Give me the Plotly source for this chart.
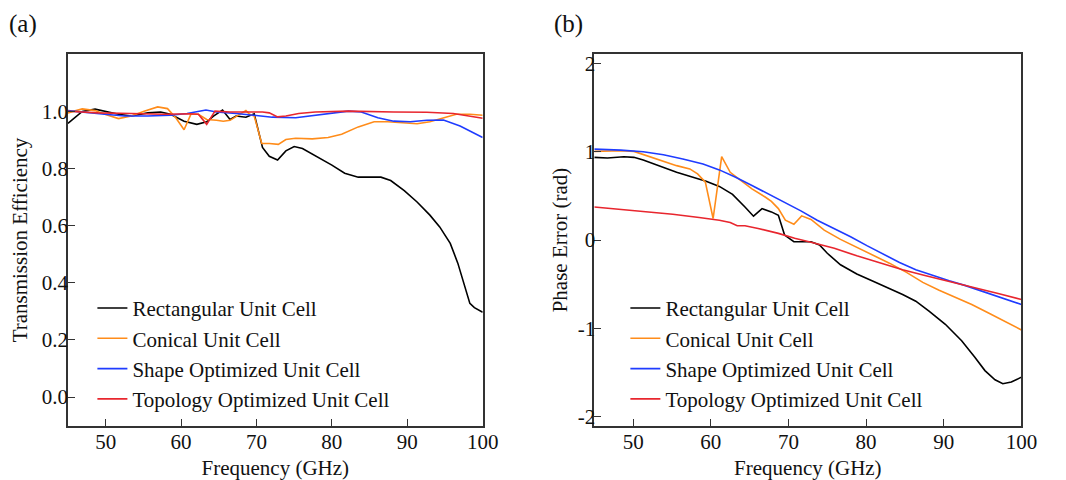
import plotly.graph_objects as go

# ---------------- Data ----------------
series_names = ["Rectangular Unit Cell", "Conical Unit Cell",
                "Shape Optimized Unit Cell", "Topology Optimized Unit Cell"]
series_colors = ["#000000", "#ff8c1a", "#1f3cff", "#e8262e"]

# Panel (a): Transmission efficiency
rect_a_f = [45, 46.9, 48.6, 49.9, 51.7, 53.4, 55.6, 57.3, 58.6, 60.4, 62.1, 63.4, 64.3, 65.5,
            66.5, 67.3, 68.6, 69.7, 70.8, 71.7, 72.8, 73.9, 75, 76.1, 77.8, 80, 81.7, 83.5,
            85.2, 86.5, 87.8, 89.6, 91.3, 93, 94.3, 95.7, 96.7, 97.6, 98.3, 98.9, 100]
rect_a_v = [0.958, 1.0, 1.008, 1.0, 0.99, 0.984, 0.995, 0.998, 0.99, 0.966, 0.955, 0.964, 0.984, 1.005,
            0.972, 0.984, 0.98, 0.992, 0.874, 0.843, 0.83, 0.862, 0.877, 0.87, 0.845, 0.812, 0.784, 0.77,
            0.77, 0.77, 0.758, 0.723, 0.683, 0.637, 0.596, 0.538, 0.469, 0.388, 0.328, 0.313, 0.297]

con_a_f = [45, 46.9, 48.6, 49.9, 51.7, 53.4, 55.1, 56.9, 58.2, 59.3, 60.4, 61.3, 62.3, 63.4,
           64.7, 65.6, 66.5, 67.6, 68.6, 69.1, 69.7, 70.7, 71.7, 72.9, 73.9, 75.2, 77.4, 79.5,
           81.3, 83.5, 85.6, 87.4, 89.6, 91.3, 93, 94.8, 96.5, 98.3, 100]
con_a_v = [0.995, 1.009, 1.003, 0.99, 0.975, 0.984, 1.001, 1.016, 1.01, 0.978, 0.936, 0.99, 0.99, 0.972,
           0.969, 0.966, 0.969, 0.986, 1.003, 0.99, 0.984, 0.888, 0.888, 0.885, 0.902, 0.906, 0.904, 0.909,
           0.92, 0.946, 0.964, 0.964, 0.96, 0.957, 0.964, 0.978, 0.99, 0.99, 0.987]

shp_a_f = [45, 47.3, 49.9, 52.5, 55.6, 58.6, 60.8, 63.3, 64.7, 67.3, 70, 72.1, 75.2, 77.8,
           80, 82.2, 83.9, 86.1, 88.2, 90.4, 92.6, 94.8, 97, 98.7, 100]
shp_a_v = [1.003, 0.998, 0.99, 0.984, 0.984, 0.987, 0.993, 1.005, 0.998, 0.993, 0.987, 0.98, 0.978, 0.986,
           0.995, 1.001, 0.998, 0.978, 0.966, 0.964, 0.969, 0.97, 0.949, 0.926, 0.909]

top_a_f = [45, 49, 53.4, 57.8, 61.2, 62.3, 63.4, 64.5, 66.5, 68.9, 70.8, 71.7, 72.8, 73.9,
           75.6, 77.8, 82.2, 88.2, 92.6, 96.1, 100]
top_a_v = [1.001, 0.995, 0.993, 0.99, 0.992, 0.99, 0.955, 1.001, 0.998, 0.998, 0.998, 0.995, 0.981, 0.984,
           0.993, 0.998, 1.001, 0.998, 0.997, 0.993, 0.976]

# Panel (b): Phase error (rad)
rect_b_f = [45, 46.7, 48.8, 50.1, 51.3, 53.5, 55.6, 57.7, 59.4, 61.1, 62.8, 64.4, 65.5, 66.6,
            67.8, 68.7, 69.5, 70.7, 72.1, 72.9, 74, 75, 76.7, 78.8, 80.9, 83, 84.7, 86.4,
            88.1, 90.2, 92.3, 94, 95.3, 96.6, 97.6, 98.7, 100]
rect_b_v = [0.935, 0.927, 0.942, 0.935, 0.905, 0.834, 0.766, 0.71, 0.665, 0.606, 0.516, 0.374, 0.269, 0.355,
            0.318, 0.28, 0.056, -0.019, -0.019, -0.019, -0.056, -0.15, -0.28, -0.385, -0.467, -0.546, -0.617, -0.692,
            -0.804, -0.953, -1.14, -1.327, -1.477, -1.581, -1.626, -1.607, -1.551]

con_b_f = [45, 48.4, 50.1, 51.8, 53.9, 55.6, 57.3, 58.3, 59.3, 60.3, 61.4, 62.5, 63.6, 65.3,
           67, 67.8, 68.7, 69.6, 70.7, 71.7, 72.9, 74.6, 76.7, 78.8, 80.9, 83, 85.2, 87.3,
           89.4, 91.5, 93.6, 95.7, 97.8, 100]
con_b_v = [1.002, 1.009, 1.002, 0.953, 0.89, 0.841, 0.804, 0.748, 0.654, 0.243, 0.942, 0.766, 0.692, 0.579,
           0.486, 0.437, 0.355, 0.224, 0.179, 0.273, 0.232, 0.112, 0.007, -0.082, -0.168, -0.262, -0.366, -0.479,
           -0.568, -0.647, -0.729, -0.822, -0.916, -1.017]

shp_b_f = [45, 48.4, 51.3, 53.9, 56.4, 59, 61.1, 63.2, 65.3, 67.4, 69.5, 71.6, 73.7, 75.9,
           78, 80.1, 82.2, 84.3, 86.4, 88.5, 90.7, 92.8, 94.9, 97, 100]
shp_b_v = [1.028, 1.017, 0.998, 0.964, 0.916, 0.86, 0.793, 0.71, 0.617, 0.523, 0.422, 0.329, 0.224, 0.131,
           0.037, -0.064, -0.161, -0.254, -0.336, -0.4, -0.46, -0.516, -0.579, -0.647, -0.729]

top_b_f = [45, 48.4, 51.8, 55.1, 58.5, 61.1, 62.5, 63.4, 64.4, 66.1, 68.7, 70.8, 72.9, 75.9,
           78.8, 81.8, 84.7, 87.7, 90.7, 94, 97, 100]
top_b_v = [0.374, 0.348, 0.325, 0.292, 0.254, 0.224, 0.198, 0.161, 0.161, 0.131, 0.075, 0.019, -0.026, -0.093,
           -0.179, -0.262, -0.336, -0.404, -0.467, -0.535, -0.606, -0.673]

x_tickvals = [50, 60, 70, 80, 90, 100]
x_ticktext = ["50", "60", "70", "80", "90", "100"]
ya_tickvals = [0.0, 0.2, 0.4, 0.6, 0.8, 1.0]
ya_ticktext = ["0.0", "0.2", "0.4", "0.6", "0.8", "1.0"]
yb_tickvals = [-2, -1, 0, 1, 2]
yb_ticktext = ["-2", "-1", "0", "1", "2"]

# ---------------- Figure ----------------
FONT = "Liberation Serif"
FS = 21
TXT = "#111111"
fig = go.Figure()

panel_a = [(rect_a_f, rect_a_v), (con_a_f, con_a_v), (shp_a_f, shp_a_v), (top_a_f, top_a_v)]
panel_b = [(rect_b_f, rect_b_v), (con_b_f, con_b_v), (shp_b_f, shp_b_v), (top_b_f, top_b_v)]

for i, (f, v) in enumerate(panel_a):
    fig.add_trace(go.Scatter(x=f, y=v, mode="lines", name=series_names[i],
                             line=dict(color=series_colors[i], width=1.6),
                             xaxis="x", yaxis="y", legend="legend",
                             legendgroup="a%d" % i))
for i, (f, v) in enumerate(panel_b):
    fig.add_trace(go.Scatter(x=f, y=v, mode="lines", name=series_names[i],
                             line=dict(color=series_colors[i], width=1.6),
                             xaxis="x2", yaxis="y2", legend="legend2",
                             legendgroup="b%d" % i))

axis_common = dict(showline=True, mirror=True, linecolor="#333333", linewidth=1.5,
                   ticks="inside", ticklen=7, tickwidth=1.2, tickcolor="#333333",
                   showgrid=False, zeroline=False,
                   tickfont=dict(family=FONT, size=FS, color=TXT))

legend_common = dict(font=dict(family=FONT, size=FS, color=TXT),
                     bgcolor="rgba(0,0,0,0)", xanchor="left", yanchor="top",
                     itemwidth=30, tracegroupgap=0, traceorder="grouped")

title_font = dict(family=FONT, size=FS, color=TXT)

fig.update_layout(
    width=1066, height=480,
    margin=dict(l=0, r=0, t=0, b=0),
    paper_bgcolor="white", plot_bgcolor="white",
    font=dict(family=FONT, size=FS, color=TXT),
    xaxis=dict(domain=[0.0647, 0.4597], range=[45, 100], tickvals=x_tickvals, ticktext=x_ticktext,
               title=dict(text="Frequency (GHz)", font=title_font, standoff=8),
               ticklabelstandoff=-4, anchor="y", **axis_common),
    yaxis=dict(domain=[0.1083, 0.8917], range=[-0.1, 1.2], tickvals=ya_tickvals, ticktext=ya_ticktext,
               title=dict(text="Transmission Efficiency", font=title_font, standoff=8),
               ticklabelstandoff=-6, anchor="x", **axis_common),
    xaxis2=dict(domain=[0.566, 0.9728], range=[45, 100], tickvals=x_tickvals, ticktext=x_ticktext,
                title=dict(text="Frequency (GHz)", font=title_font, standoff=8),
                ticklabelstandoff=-4, anchor="y2", **axis_common),
    yaxis2=dict(domain=[0.1083, 0.8917], range=[-2.1, 2.1], tickvals=yb_tickvals, ticktext=yb_ticktext,
                title=dict(text="Phase Error (rad)", font=title_font, standoff=4),
                ticklabelstandoff=-7, anchor="x2", **axis_common),
    legend=dict(x=0.088, y=0.399, **legend_common),
    legend2=dict(x=0.5956, y=0.399, **legend_common),
    annotations=[
        dict(text="(a)", x=0.007, y=0.955, xref="paper", yref="paper", xanchor="left", yanchor="middle",
             showarrow=False, font=dict(family=FONT, size=25, color=TXT)),
        dict(text="(b)", x=0.5255, y=0.955, xref="paper", yref="paper", xanchor="left", yanchor="middle",
             showarrow=False, font=dict(family=FONT, size=25, color=TXT)),
    ],
)

fig.write_html("out.html")
